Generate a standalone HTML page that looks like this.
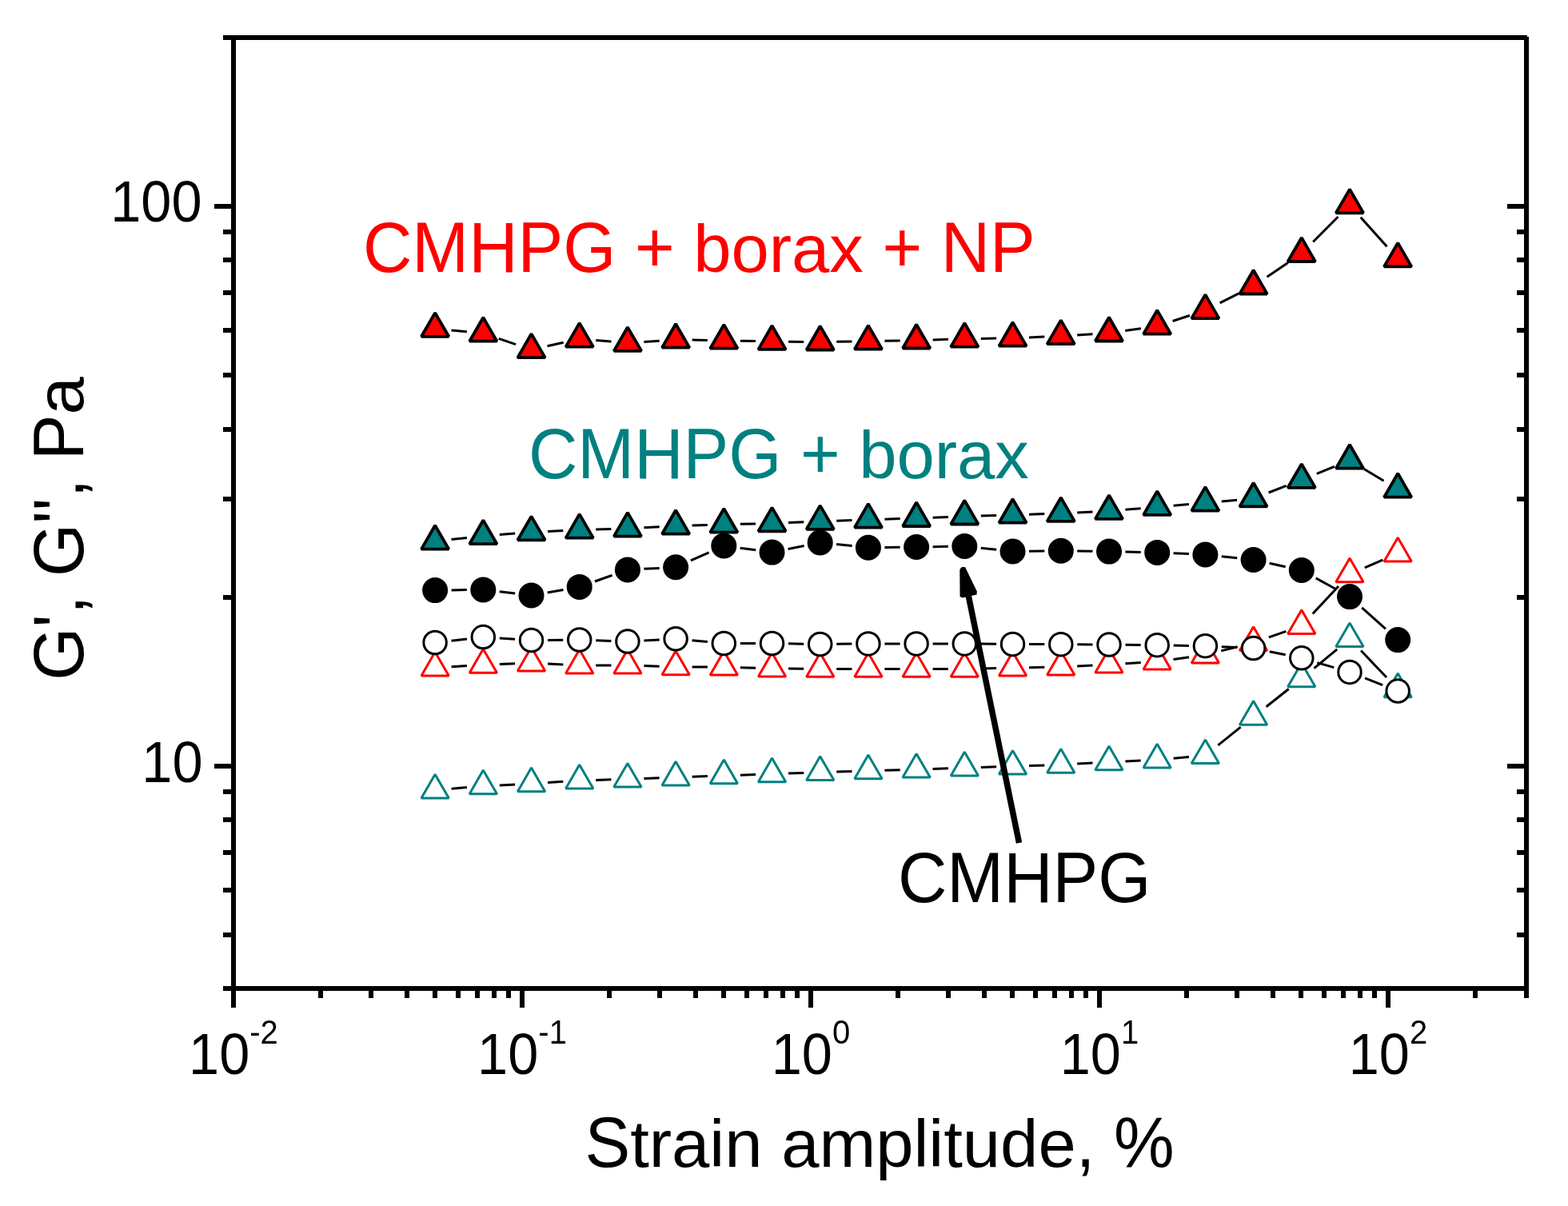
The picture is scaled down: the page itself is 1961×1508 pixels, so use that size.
<!DOCTYPE html>
<html><head><meta charset="utf-8"><title>G', G'' vs Strain amplitude</title>
<style>html,body{margin:0;padding:0;background:#fff;}svg{display:block;}text{font-kerning:none;}</style></head>
<body>
<svg width="1961" height="1508" viewBox="0 0 1961 1508" font-family="'Liberation Sans', Arial, Helvetica, sans-serif">
<rect width="1961" height="1508" fill="#fff"/>
<path d="M279 47H1910" stroke="#000" stroke-width="6"/>
<path d="M279 1236H1912" stroke="#000" stroke-width="6"/>
<path d="M292 44V1260" stroke="#000" stroke-width="6"/>
<path d="M1909 46V1248" stroke="#000" stroke-width="6"/>
<path d="M279 1236.0H292M1897 1236.0H1909M279 1169.0H292M1897 1169.0H1909M279 1113.0H292M1897 1113.0H1909M279 1066.0H292M1897 1066.0H1909M279 1025.0H292M1897 1025.0H1909M279 990.0H292M1897 990.0H1909M268 958.0H292M1885 958.0H1909M279 747.0H292M1897 747.0H1909M279 624.0H292M1897 624.0H1909M279 537.0H292M1897 537.0H1909M279 469.0H292M1897 469.0H1909M279 413.0H292M1897 413.0H1909M279 366.0H292M1897 366.0H1909M279 325.0H292M1897 325.0H1909M279 290.0H292M1897 290.0H1909M268 258.0H292M1885 258.0H1909M279 47.0H292M1897 47.0H1909M292.0 1236V1260M401.0 1236V1248M464.0 1236V1248M509.0 1236V1248M544.0 1236V1248M573.0 1236V1248M597.0 1236V1248M618.0 1236V1248M636.0 1236V1248M653.0 1236V1260M762.0 1236V1248M825.0 1236V1248M870.0 1236V1248M905.0 1236V1248M934.0 1236V1248M958.0 1236V1248M979.0 1236V1248M997.0 1236V1248M1014.0 1236V1260M1123.0 1236V1248M1186.0 1236V1248M1231.0 1236V1248M1266.0 1236V1248M1295.0 1236V1248M1319.0 1236V1248M1340.0 1236V1248M1358.0 1236V1248M1375.0 1236V1260M1484.0 1236V1248M1547.0 1236V1248M1592.0 1236V1248M1627.0 1236V1248M1656.0 1236V1248M1680.0 1236V1248M1701.0 1236V1248M1719.0 1236V1248M1736.0 1236V1260M1845.0 1236V1248" stroke="#000" stroke-width="6" fill="none"/>
<path d="M564.5 412.9L583.9 414.8M623.7 423.4L645.1 430.6M684.5 432.7L704.7 428.2M745.2 425.5L764.5 427.1M805.4 427.5L824.7 426.2M865.6 425.1L884.8 425.5M925.8 426.2L945.0 426.6M986.0 427.2L1005.2 427.4M1046.2 427.3L1065.4 427.0M1106.4 426.3L1125.6 426.0M1166.6 425.0L1185.9 424.3M1226.8 423.4L1246.1 423.1M1287.0 421.9L1306.3 421.1M1347.2 419.0L1366.5 417.8M1407.2 413.6L1426.9 410.8M1466.6 401.5L1487.9 394.5M1525.6 378.9L1549.3 366.9M1584.6 346.2L1610.8 328.5M1642.2 302.5L1673.5 271.0M1701.7 271.7L1734.5 308.2" stroke="#000" stroke-width="3" fill="none"/>
<polygon points="544.1,391.1 527.0,420.8 561.3,420.8" fill="#FF0000" stroke="#000" stroke-width="3.8" stroke-linejoin="bevel"/><polygon points="604.3,397.0 587.2,426.7 621.5,426.7" fill="#FF0000" stroke="#000" stroke-width="3.8" stroke-linejoin="bevel"/><polygon points="664.5,417.4 647.4,447.1 681.7,447.1" fill="#FF0000" stroke="#000" stroke-width="3.8" stroke-linejoin="bevel"/><polygon points="724.7,403.9 707.6,433.6 741.9,433.6" fill="#FF0000" stroke="#000" stroke-width="3.8" stroke-linejoin="bevel"/><polygon points="784.9,409.1 767.8,438.8 802.1,438.8" fill="#FF0000" stroke="#000" stroke-width="3.8" stroke-linejoin="bevel"/><polygon points="845.1,405.0 828.0,434.7 862.3,434.7" fill="#FF0000" stroke="#000" stroke-width="3.8" stroke-linejoin="bevel"/><polygon points="905.3,406.0 888.2,435.7 922.5,435.7" fill="#FF0000" stroke="#000" stroke-width="3.8" stroke-linejoin="bevel"/><polygon points="965.5,407.2 948.4,436.9 982.7,436.9" fill="#FF0000" stroke="#000" stroke-width="3.8" stroke-linejoin="bevel"/><polygon points="1025.7,407.8 1008.6,437.5 1042.9,437.5" fill="#FF0000" stroke="#000" stroke-width="3.8" stroke-linejoin="bevel"/><polygon points="1085.9,406.9 1068.8,436.6 1103.1,436.6" fill="#FF0000" stroke="#000" stroke-width="3.8" stroke-linejoin="bevel"/><polygon points="1146.1,405.8 1129.0,435.5 1163.3,435.5" fill="#FF0000" stroke="#000" stroke-width="3.8" stroke-linejoin="bevel"/><polygon points="1206.3,403.9 1189.2,433.6 1223.5,433.6" fill="#FF0000" stroke="#000" stroke-width="3.8" stroke-linejoin="bevel"/><polygon points="1266.5,403.0 1249.4,432.7 1283.7,432.7" fill="#FF0000" stroke="#000" stroke-width="3.8" stroke-linejoin="bevel"/><polygon points="1326.8,400.4 1309.6,430.1 1343.9,430.1" fill="#FF0000" stroke="#000" stroke-width="3.8" stroke-linejoin="bevel"/><polygon points="1387.0,396.8 1369.8,426.5 1404.1,426.5" fill="#FF0000" stroke="#000" stroke-width="3.8" stroke-linejoin="bevel"/><polygon points="1447.2,388.0 1430.0,417.7 1464.3,417.7" fill="#FF0000" stroke="#000" stroke-width="3.8" stroke-linejoin="bevel"/><polygon points="1507.4,368.4 1490.2,398.1 1524.5,398.1" fill="#FF0000" stroke="#000" stroke-width="3.8" stroke-linejoin="bevel"/><polygon points="1567.6,337.8 1550.4,367.5 1584.7,367.5" fill="#FF0000" stroke="#000" stroke-width="3.8" stroke-linejoin="bevel"/><polygon points="1627.8,297.3 1610.6,327.0 1644.9,327.0" fill="#FF0000" stroke="#000" stroke-width="3.8" stroke-linejoin="bevel"/><polygon points="1688.0,236.6 1670.8,266.3 1705.1,266.3" fill="#FF0000" stroke="#000" stroke-width="3.8" stroke-linejoin="bevel"/><polygon points="1748.2,303.7 1731.0,333.4 1765.3,333.4" fill="#FF0000" stroke="#000" stroke-width="3.8" stroke-linejoin="bevel"/>
<path d="M564.6 833.7L583.9 832.6M624.8 830.6L644.0 829.8M685.0 830.1L704.3 831.0M745.2 832.0L764.4 832.0M805.4 832.6L824.6 833.2M865.6 833.9L884.8 833.9M925.8 834.7L945.1 835.3M986.0 836.1L1005.2 836.3M1046.2 836.4L1065.4 836.4M1106.4 836.4L1125.6 836.4M1166.6 836.4L1185.8 836.4M1226.8 835.9L1246.1 835.5M1287.0 834.7L1306.3 834.3M1347.2 833.0L1366.5 832.1M1407.4 829.7L1426.7 828.5M1467.5 824.4L1487.0 821.7M1527.2 813.9L1547.7 808.7M1586.9 796.8L1608.4 789.3M1641.7 767.5L1674.0 732.9M1706.8 709.8L1729.3 700.1" stroke="#000" stroke-width="3" fill="none"/>
<polygon points="544.1,815.2 527.0,844.9 561.3,844.9" fill="none" stroke="#FF0000" stroke-width="3" stroke-linejoin="bevel"/><polygon points="604.3,811.5 587.2,841.2 621.5,841.2" fill="none" stroke="#FF0000" stroke-width="3" stroke-linejoin="bevel"/><polygon points="664.5,809.3 647.4,839.0 681.7,839.0" fill="none" stroke="#FF0000" stroke-width="3" stroke-linejoin="bevel"/><polygon points="724.7,812.2 707.6,841.9 741.9,841.9" fill="none" stroke="#FF0000" stroke-width="3" stroke-linejoin="bevel"/><polygon points="784.9,812.2 767.8,841.9 802.1,841.9" fill="none" stroke="#FF0000" stroke-width="3" stroke-linejoin="bevel"/><polygon points="845.1,814.0 828.0,843.7 862.3,843.7" fill="none" stroke="#FF0000" stroke-width="3" stroke-linejoin="bevel"/><polygon points="905.3,814.2 888.2,843.9 922.5,843.9" fill="none" stroke="#FF0000" stroke-width="3" stroke-linejoin="bevel"/><polygon points="965.5,816.2 948.4,845.9 982.7,845.9" fill="none" stroke="#FF0000" stroke-width="3" stroke-linejoin="bevel"/><polygon points="1025.7,816.6 1008.6,846.3 1042.9,846.3" fill="none" stroke="#FF0000" stroke-width="3" stroke-linejoin="bevel"/><polygon points="1085.9,816.6 1068.8,846.3 1103.1,846.3" fill="none" stroke="#FF0000" stroke-width="3" stroke-linejoin="bevel"/><polygon points="1146.1,816.6 1129.0,846.3 1163.3,846.3" fill="none" stroke="#FF0000" stroke-width="3" stroke-linejoin="bevel"/><polygon points="1206.3,816.6 1189.2,846.3 1223.5,846.3" fill="none" stroke="#FF0000" stroke-width="3" stroke-linejoin="bevel"/><polygon points="1266.5,815.2 1249.4,844.9 1283.7,844.9" fill="none" stroke="#FF0000" stroke-width="3" stroke-linejoin="bevel"/><polygon points="1326.8,814.2 1309.6,843.9 1343.9,843.9" fill="none" stroke="#FF0000" stroke-width="3" stroke-linejoin="bevel"/><polygon points="1387.0,811.3 1369.8,841.0 1404.1,841.0" fill="none" stroke="#FF0000" stroke-width="3" stroke-linejoin="bevel"/><polygon points="1447.2,807.3 1430.0,837.0 1464.3,837.0" fill="none" stroke="#FF0000" stroke-width="3" stroke-linejoin="bevel"/><polygon points="1507.4,799.2 1490.2,828.9 1524.5,828.9" fill="none" stroke="#FF0000" stroke-width="3" stroke-linejoin="bevel"/><polygon points="1567.6,783.8 1550.4,813.5 1584.7,813.5" fill="none" stroke="#FF0000" stroke-width="3" stroke-linejoin="bevel"/><polygon points="1627.8,762.7 1610.6,792.4 1644.9,792.4" fill="none" stroke="#FF0000" stroke-width="3" stroke-linejoin="bevel"/><polygon points="1688.0,698.1 1670.8,727.8 1705.1,727.8" fill="none" stroke="#FF0000" stroke-width="3" stroke-linejoin="bevel"/><polygon points="1748.2,672.2 1731.0,701.9 1765.3,701.9" fill="none" stroke="#FF0000" stroke-width="3" stroke-linejoin="bevel"/>
<path d="M564.5 674.6L583.9 672.5M624.8 668.6L644.1 667.1M685.0 664.5L704.3 663.6M745.2 662.0L764.4 661.4M805.4 659.7L824.7 658.8M865.6 657.1L884.8 656.5M925.8 655.3L945.0 654.9M986.0 653.5L1005.3 652.8M1046.2 651.2L1065.5 650.4M1106.4 649.2L1125.7 648.6M1166.6 647.2L1185.9 646.5M1226.8 645.0L1246.1 644.4M1287.0 643.2L1306.3 642.6M1347.2 641.0L1366.5 640.0M1407.4 637.3L1426.7 635.7M1467.6 632.2L1486.9 630.5M1527.8 626.9L1547.1 625.3M1586.6 616.0L1608.7 607.4M1646.8 592.3L1668.9 583.4M1705.6 586.3L1730.6 601.3" stroke="#000" stroke-width="3" fill="none"/>
<polygon points="544.1,657.0 527.0,686.7 561.3,686.7" fill="#008080" stroke="#000" stroke-width="3.8" stroke-linejoin="bevel"/><polygon points="604.3,650.5 587.2,680.2 621.5,680.2" fill="#008080" stroke="#000" stroke-width="3.8" stroke-linejoin="bevel"/><polygon points="664.5,645.6 647.4,675.3 681.7,675.3" fill="#008080" stroke="#000" stroke-width="3.8" stroke-linejoin="bevel"/><polygon points="724.7,642.9 707.6,672.6 741.9,672.6" fill="#008080" stroke="#000" stroke-width="3.8" stroke-linejoin="bevel"/><polygon points="784.9,640.9 767.8,670.6 802.1,670.6" fill="#008080" stroke="#000" stroke-width="3.8" stroke-linejoin="bevel"/><polygon points="845.1,638.0 828.0,667.7 862.3,667.7" fill="#008080" stroke="#000" stroke-width="3.8" stroke-linejoin="bevel"/><polygon points="905.3,636.0 888.2,665.7 922.5,665.7" fill="#008080" stroke="#000" stroke-width="3.8" stroke-linejoin="bevel"/><polygon points="965.5,634.6 948.4,664.3 982.7,664.3" fill="#008080" stroke="#000" stroke-width="3.8" stroke-linejoin="bevel"/><polygon points="1025.7,632.1 1008.6,661.8 1042.9,661.8" fill="#008080" stroke="#000" stroke-width="3.8" stroke-linejoin="bevel"/><polygon points="1085.9,629.9 1068.8,659.6 1103.1,659.6" fill="#008080" stroke="#000" stroke-width="3.8" stroke-linejoin="bevel"/><polygon points="1146.1,628.3 1129.0,658.0 1163.3,658.0" fill="#008080" stroke="#000" stroke-width="3.8" stroke-linejoin="bevel"/><polygon points="1206.3,625.8 1189.2,655.5 1223.5,655.5" fill="#008080" stroke="#000" stroke-width="3.8" stroke-linejoin="bevel"/><polygon points="1266.5,624.0 1249.4,653.7 1283.7,653.7" fill="#008080" stroke="#000" stroke-width="3.8" stroke-linejoin="bevel"/><polygon points="1326.8,622.2 1309.6,651.9 1343.9,651.9" fill="#008080" stroke="#000" stroke-width="3.8" stroke-linejoin="bevel"/><polygon points="1387.0,619.2 1369.8,648.9 1404.1,648.9" fill="#008080" stroke="#000" stroke-width="3.8" stroke-linejoin="bevel"/><polygon points="1447.2,614.2 1430.0,643.9 1464.3,643.9" fill="#008080" stroke="#000" stroke-width="3.8" stroke-linejoin="bevel"/><polygon points="1507.4,608.9 1490.2,638.6 1524.5,638.6" fill="#008080" stroke="#000" stroke-width="3.8" stroke-linejoin="bevel"/><polygon points="1567.6,603.7 1550.4,633.4 1584.7,633.4" fill="#008080" stroke="#000" stroke-width="3.8" stroke-linejoin="bevel"/><polygon points="1627.8,580.1 1610.6,609.8 1644.9,609.8" fill="#008080" stroke="#000" stroke-width="3.8" stroke-linejoin="bevel"/><polygon points="1688.0,556.0 1670.8,585.7 1705.1,585.7" fill="#008080" stroke="#000" stroke-width="3.8" stroke-linejoin="bevel"/><polygon points="1748.2,592.0 1731.0,621.7 1765.3,621.7" fill="#008080" stroke="#000" stroke-width="3.8" stroke-linejoin="bevel"/>
<path d="M564.6 986.3L583.9 984.6M624.8 981.9L644.1 980.9M685.0 978.6L704.3 977.3M745.2 975.4L764.4 974.8M805.4 973.5L824.6 972.7M865.6 971.3L884.9 970.5M925.8 969.2L945.0 968.5M986.0 967.1L1005.3 966.4M1046.2 965.0L1065.5 964.5M1106.4 963.3L1125.7 962.8M1166.6 961.5L1185.9 960.8M1226.8 959.5L1246.1 958.8M1287.0 957.6L1306.3 956.9M1347.2 955.1L1366.5 954.1M1407.4 951.9L1426.7 951.0M1467.6 948.2L1486.9 946.5M1523.3 931.9L1551.6 909.2M1583.6 883.7L1611.7 861.5M1643.5 835.7L1672.2 811.8M1702.1 813.5L1734.0 847.0" stroke="#000" stroke-width="3" fill="none"/>
<polygon points="544.1,968.2 527.0,997.9 561.3,997.9" fill="none" stroke="#008080" stroke-width="3" stroke-linejoin="bevel"/><polygon points="604.3,963.1 587.2,992.8 621.5,992.8" fill="none" stroke="#008080" stroke-width="3" stroke-linejoin="bevel"/><polygon points="664.5,960.1 647.4,989.8 681.7,989.8" fill="none" stroke="#008080" stroke-width="3" stroke-linejoin="bevel"/><polygon points="724.7,956.2 707.6,985.9 741.9,985.9" fill="none" stroke="#008080" stroke-width="3" stroke-linejoin="bevel"/><polygon points="784.9,954.4 767.8,984.1 802.1,984.1" fill="none" stroke="#008080" stroke-width="3" stroke-linejoin="bevel"/><polygon points="845.1,952.2 828.0,981.9 862.3,981.9" fill="none" stroke="#008080" stroke-width="3" stroke-linejoin="bevel"/><polygon points="905.3,950.0 888.2,979.7 922.5,979.7" fill="none" stroke="#008080" stroke-width="3" stroke-linejoin="bevel"/><polygon points="965.5,948.1 948.4,977.8 982.7,977.8" fill="none" stroke="#008080" stroke-width="3" stroke-linejoin="bevel"/><polygon points="1025.7,945.8 1008.6,975.5 1042.9,975.5" fill="none" stroke="#008080" stroke-width="3" stroke-linejoin="bevel"/><polygon points="1085.9,944.1 1068.8,973.8 1103.1,973.8" fill="none" stroke="#008080" stroke-width="3" stroke-linejoin="bevel"/><polygon points="1146.1,942.4 1129.0,972.1 1163.3,972.1" fill="none" stroke="#008080" stroke-width="3" stroke-linejoin="bevel"/><polygon points="1206.3,940.3 1189.2,970.0 1223.5,970.0" fill="none" stroke="#008080" stroke-width="3" stroke-linejoin="bevel"/><polygon points="1266.5,938.4 1249.4,968.1 1283.7,968.1" fill="none" stroke="#008080" stroke-width="3" stroke-linejoin="bevel"/><polygon points="1326.8,936.5 1309.6,966.2 1343.9,966.2" fill="none" stroke="#008080" stroke-width="3" stroke-linejoin="bevel"/><polygon points="1387.0,933.1 1369.8,962.8 1404.1,962.8" fill="none" stroke="#008080" stroke-width="3" stroke-linejoin="bevel"/><polygon points="1447.2,930.2 1430.0,959.9 1464.3,959.9" fill="none" stroke="#008080" stroke-width="3" stroke-linejoin="bevel"/><polygon points="1507.4,924.9 1490.2,954.6 1524.5,954.6" fill="none" stroke="#008080" stroke-width="3" stroke-linejoin="bevel"/><polygon points="1567.6,876.6 1550.4,906.3 1584.7,906.3" fill="none" stroke="#008080" stroke-width="3" stroke-linejoin="bevel"/><polygon points="1627.8,829.0 1610.6,858.7 1644.9,858.7" fill="none" stroke="#008080" stroke-width="3" stroke-linejoin="bevel"/><polygon points="1688.0,778.9 1670.8,808.6 1705.1,808.6" fill="none" stroke="#008080" stroke-width="3" stroke-linejoin="bevel"/><polygon points="1748.2,842.0 1731.0,871.7 1765.3,871.7" fill="none" stroke="#008080" stroke-width="3" stroke-linejoin="bevel"/>
<path d="M564.6 737.9L583.8 737.6M624.7 739.8L644.2 742.1M684.7 740.9L704.5 737.5M744.0 727.0L765.6 719.3M805.4 711.3L824.7 710.4M863.9 700.9L886.6 690.8M925.6 685.2L945.2 687.8M985.6 686.5L1005.6 682.5M1046.1 680.5L1065.6 682.6M1106.4 684.5L1125.6 684.2M1166.6 683.7L1185.8 683.3M1226.7 685.2L1246.2 687.3M1287.0 689.3L1306.3 689.0M1347.2 689.1L1366.5 689.3M1407.4 690.0L1426.7 690.5M1467.6 691.8L1486.9 692.6M1527.7 695.7L1547.2 697.8M1587.6 704.3L1607.7 708.7M1645.7 722.9L1670.0 736.2M1703.2 759.8L1732.9 786.4" stroke="#000" stroke-width="3" fill="none"/>
<circle cx="544.1" cy="738.1" r="16" fill="#000" stroke="none" stroke-width="0"/><circle cx="604.3" cy="737.4" r="16" fill="#000" stroke="none" stroke-width="0"/><circle cx="664.5" cy="744.5" r="16" fill="#000" stroke="none" stroke-width="0"/><circle cx="724.7" cy="733.9" r="16" fill="#000" stroke="none" stroke-width="0"/><circle cx="784.9" cy="712.4" r="16" fill="#000" stroke="none" stroke-width="0"/><circle cx="845.1" cy="709.3" r="16" fill="#000" stroke="none" stroke-width="0"/><circle cx="905.3" cy="682.4" r="16" fill="#000" stroke="none" stroke-width="0"/><circle cx="965.5" cy="690.6" r="16" fill="#000" stroke="none" stroke-width="0"/><circle cx="1025.7" cy="678.4" r="16" fill="#000" stroke="none" stroke-width="0"/><circle cx="1085.9" cy="684.7" r="16" fill="#000" stroke="none" stroke-width="0"/><circle cx="1146.1" cy="684.0" r="16" fill="#000" stroke="none" stroke-width="0"/><circle cx="1206.3" cy="683.0" r="16" fill="#000" stroke="none" stroke-width="0"/><circle cx="1266.5" cy="689.5" r="16" fill="#000" stroke="none" stroke-width="0"/><circle cx="1326.8" cy="688.8" r="16" fill="#000" stroke="none" stroke-width="0"/><circle cx="1387.0" cy="689.6" r="16" fill="#000" stroke="none" stroke-width="0"/><circle cx="1447.2" cy="690.9" r="16" fill="#000" stroke="none" stroke-width="0"/><circle cx="1507.4" cy="693.5" r="16" fill="#000" stroke="none" stroke-width="0"/><circle cx="1567.6" cy="700.0" r="16" fill="#000" stroke="none" stroke-width="0"/><circle cx="1627.8" cy="713.0" r="16" fill="#000" stroke="none" stroke-width="0"/><circle cx="1688.0" cy="746.1" r="16" fill="#000" stroke="none" stroke-width="0"/><circle cx="1748.2" cy="800.1" r="16" fill="#000" stroke="none" stroke-width="0"/>
<path d="M564.5 801.2L584.0 798.9M624.8 798.0L644.1 799.2M685.0 800.4L704.2 800.2M745.2 800.7L764.4 801.4M805.4 801.0L824.7 799.9M865.5 800.7L884.9 802.6M925.8 804.5L945.0 804.5M986.0 804.8L1005.2 805.2M1046.2 805.3L1065.4 805.1M1106.4 804.9L1125.6 804.9M1166.6 804.9L1185.8 804.9M1226.8 805.1L1246.1 805.3M1287.0 805.6L1306.3 805.6M1347.3 805.8L1366.5 806.0M1407.5 806.3L1426.7 806.5M1467.7 807.0L1486.9 807.4M1527.8 808.7L1547.1 809.6M1587.7 814.7L1607.7 818.7M1647.4 828.6L1668.3 834.6M1707.0 847.9L1729.1 856.6" stroke="#000" stroke-width="3" fill="none"/>
<circle cx="544.1" cy="803.5" r="14.25" fill="#fff" stroke="#000" stroke-width="3"/><circle cx="604.3" cy="796.6" r="14.25" fill="#fff" stroke="#000" stroke-width="3"/><circle cx="664.5" cy="800.6" r="14.25" fill="#fff" stroke="#000" stroke-width="3"/><circle cx="724.7" cy="800.0" r="14.25" fill="#fff" stroke="#000" stroke-width="3"/><circle cx="784.9" cy="802.1" r="14.25" fill="#fff" stroke="#000" stroke-width="3"/><circle cx="845.1" cy="798.8" r="14.25" fill="#fff" stroke="#000" stroke-width="3"/><circle cx="905.3" cy="804.5" r="14.25" fill="#fff" stroke="#000" stroke-width="3"/><circle cx="965.5" cy="804.5" r="14.25" fill="#fff" stroke="#000" stroke-width="3"/><circle cx="1025.7" cy="805.5" r="14.25" fill="#fff" stroke="#000" stroke-width="3"/><circle cx="1085.9" cy="804.9" r="14.25" fill="#fff" stroke="#000" stroke-width="3"/><circle cx="1146.1" cy="804.9" r="14.25" fill="#fff" stroke="#000" stroke-width="3"/><circle cx="1206.3" cy="804.9" r="14.25" fill="#fff" stroke="#000" stroke-width="3"/><circle cx="1266.5" cy="805.5" r="14.25" fill="#fff" stroke="#000" stroke-width="3"/><circle cx="1326.8" cy="805.7" r="14.25" fill="#fff" stroke="#000" stroke-width="3"/><circle cx="1387.0" cy="806.1" r="14.25" fill="#fff" stroke="#000" stroke-width="3"/><circle cx="1447.2" cy="806.7" r="14.25" fill="#fff" stroke="#000" stroke-width="3"/><circle cx="1507.4" cy="807.7" r="14.25" fill="#fff" stroke="#000" stroke-width="3"/><circle cx="1567.6" cy="810.6" r="14.25" fill="#fff" stroke="#000" stroke-width="3"/><circle cx="1627.8" cy="822.8" r="14.25" fill="#fff" stroke="#000" stroke-width="3"/><circle cx="1688.0" cy="840.4" r="14.25" fill="#fff" stroke="#000" stroke-width="3"/><circle cx="1748.2" cy="864.1" r="14.25" fill="#fff" stroke="#000" stroke-width="3"/>
<g><text x="252.5" y="277.5" font-size="68.5" text-anchor="end" transform="translate(252.5 277.5) scale(1.0000 1.0570) translate(-252.5 -277.5)">100</text>
<text x="253.5" y="978.5" font-size="68.5" text-anchor="end" transform="translate(253.5 978.5) scale(1.0000 1.0570) translate(-253.5 -978.5)">10</text>
<text x="292.0" y="1343" font-size="68.5" text-anchor="middle" transform="translate(292.0 1343.0) scale(1.0000 1.0570) translate(-292.0 -1343.0)">10<tspan font-size="40" dy="-36">-2</tspan></text>
<text x="653.0" y="1343" font-size="68.5" text-anchor="middle" transform="translate(653.0 1343.0) scale(1.0000 1.0570) translate(-653.0 -1343.0)">10<tspan font-size="40" dy="-36">-1</tspan></text>
<text x="1014.0" y="1343" font-size="68.5" text-anchor="middle" transform="translate(1014.0 1343.0) scale(1.0000 1.0570) translate(-1014.0 -1343.0)">10<tspan font-size="40" dy="-36">0</tspan></text>
<text x="1375.0" y="1343" font-size="68.5" text-anchor="middle" transform="translate(1375.0 1343.0) scale(1.0000 1.0570) translate(-1375.0 -1343.0)">10<tspan font-size="40" dy="-36">1</tspan></text>
<text x="1736.0" y="1343" font-size="68.5" text-anchor="middle" transform="translate(1736.0 1343.0) scale(1.0000 1.0570) translate(-1736.0 -1343.0)">10<tspan font-size="40" dy="-36">2</tspan></text>
<text x="731.49" y="1459.00" font-size="85" fill="#000" transform="translate(731.49 1459.00) scale(1 1.0400) translate(-731.49 -1459.00)">S</text><text x="788.18" y="1459.00" font-size="85" fill="#000" transform="translate(788.18 1459.00) scale(1 0.9850) translate(-788.18 -1459.00)">train amplitude</text><text x="1345.70" y="1459.00" font-size="85" fill="#000" transform="translate(1345.70 1459.00) scale(1 1.0400) translate(-1345.70 -1459.00)">, %</text>
<g transform="translate(104 661) rotate(-90)"><text x="-189.67" y="0.00" font-size="85" fill="#000" transform="translate(-189.67 0.00) scale(1 1.0400) translate(189.67 0.00)">G', G'', P</text><text x="142.40" y="0.00" font-size="85" fill="#000" transform="translate(142.40 0.00) scale(1 0.9850) translate(-142.40 0.00)">a</text></g>
<text x="454.00" y="340.00" font-size="85" fill="#FF0000" transform="translate(454.00 340.00) scale(1 1.0400) translate(-454.00 -340.00)">CMHPG + </text><text x="867.25" y="340.00" font-size="85" fill="#FF0000" transform="translate(867.25 340.00) scale(1 0.9850) translate(-867.25 -340.00)">borax </text><text x="1103.49" y="340.00" font-size="85" fill="#FF0000" transform="translate(1103.49 340.00) scale(1 1.0400) translate(-1103.49 -340.00)">+ NP</text>
<text x="661.00" y="598.00" font-size="85" fill="#008080" transform="translate(661.00 598.00) scale(1 1.0400) translate(-661.00 -598.00)">CMHPG + </text><text x="1074.25" y="598.00" font-size="85" fill="#008080" transform="translate(1074.25 598.00) scale(1 0.9850) translate(-1074.25 -598.00)">borax</text>
<text x="1123.00" y="1128.00" font-size="85" fill="#000" transform="translate(1123.00 1128.00) scale(1 1.0400) translate(-1123.00 -1128.00)">CMHPG</text></g>
<path d="M1274.5 1054L1211 744" stroke="#000" stroke-width="7.5" fill="none"/><polygon points="1201,711 1203,709 1207,709 1221.8,739.5 1221.5,743.5 1204,747.5 1200.5,746 1200.3,713" fill="#000"/>
</svg>
</body></html>
